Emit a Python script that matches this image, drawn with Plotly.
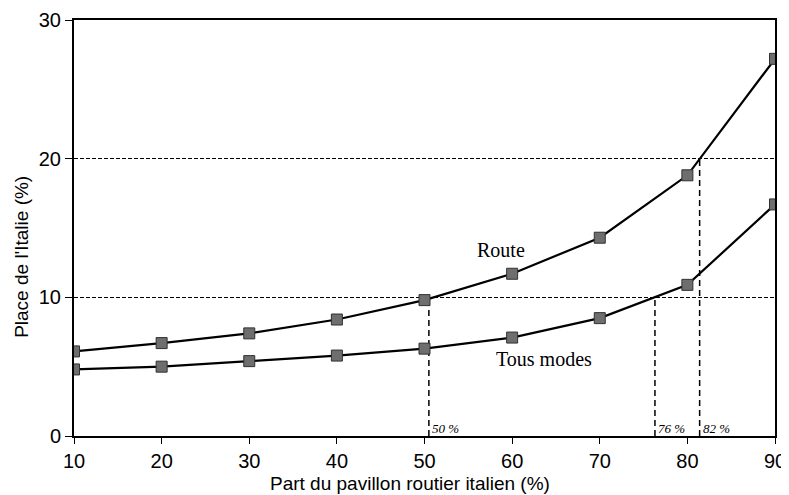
import plotly.graph_objs as go

# part du pavillon routier italien (%)
parts = [10, 20, 30, 40, 50, 60, 70, 80, 90]
route = [6.1, 6.7, 7.4, 8.4, 9.8, 11.7, 14.3, 18.8, 27.2]
tous_modes = [4.8, 5.0, 5.4, 5.8, 6.3, 7.1, 8.5, 10.9, 16.7]

# seuils reperes (x, niveau atteint, etiquette)
seuil_x = [50.5, 76.3, 81.4]
seuil_y = [10, 10, 20]
seuil_lbl = ["50 %", "76 %", "82 %"]

fig = go.Figure()

# reperes verticaux en tirets
for sx, sy in zip(seuil_x, seuil_y):
    fig.add_trace(go.Scatter(x=[sx, sx], y=[0, sy], mode="lines",
                             line=dict(color="black", width=1.5, dash="6px,4px"),
                             showlegend=False, hoverinfo="skip"))

marker = dict(symbol="square", size=11, color="#6e6e6e",
              line=dict(color="#303030", width=1))
fig.add_trace(go.Scatter(x=parts, y=route, mode="lines+markers", name="Route",
                         line=dict(color="black", width=2.2), marker=marker))
fig.add_trace(go.Scatter(x=parts, y=tous_modes, mode="lines+markers", name="Tous modes",
                         line=dict(color="black", width=2.2), marker=marker))

for sx, lbl in zip(seuil_x, seuil_lbl):
    fig.add_annotation(x=sx, y=0, text="<i>" + lbl + "</i>", showarrow=False,
                       xanchor="left", yanchor="bottom", xshift=1, yshift=-2,
                       font=dict(family="Liberation Serif", size=13, color="black"))

fig.add_annotation(x=58.7, y=13.4, text="Route", showarrow=False,
                   font=dict(family="Liberation Serif", size=20, color="black"))
fig.add_annotation(x=63.6, y=5.55, text="Tous modes", showarrow=False,
                   font=dict(family="Liberation Serif", size=20, color="black"))

# titres d'axes
fig.add_annotation(x=-0.076, y=0.43, xref="paper", yref="paper", textangle=-90,
                   xanchor="center", yanchor="middle",
                   text="Place de l'Italie (%)", showarrow=False,
                   font=dict(family="Liberation Sans", size=19, color="black"))
fig.add_annotation(x=0.48, y=-0.113, xref="paper", yref="paper",
                   xanchor="center", yanchor="middle",
                   text="Part du pavillon routier italien (%)", showarrow=False,
                   font=dict(family="Liberation Sans", size=19, color="black"))

# la page ajoute une marge de 8 px autour du graphique
fig.update_layout(
    width=781, height=487,
    margin=dict(l=66, r=14, t=12, b=59),
    plot_bgcolor="white", paper_bgcolor="white",
    showlegend=False,
    font=dict(family="Liberation Sans", color="black", size=20),
    xaxis=dict(range=[10, 90], tickvals=parts, showgrid=False, zeroline=False,
               showline=True, linecolor="black", linewidth=2, mirror=True,
               ticks="outside", ticklen=6, tickcolor="black", automargin=False),
    yaxis=dict(range=[0, 30], tickvals=[0, 10, 20, 30], zeroline=False,
               showgrid=True, gridcolor="black", gridwidth=1, griddash="4px,2px",
               showline=True, linecolor="black", linewidth=2, mirror=True,
               ticks="outside", ticklen=7, tickcolor="black", automargin=False),
)

fig.write_html("out.html")
